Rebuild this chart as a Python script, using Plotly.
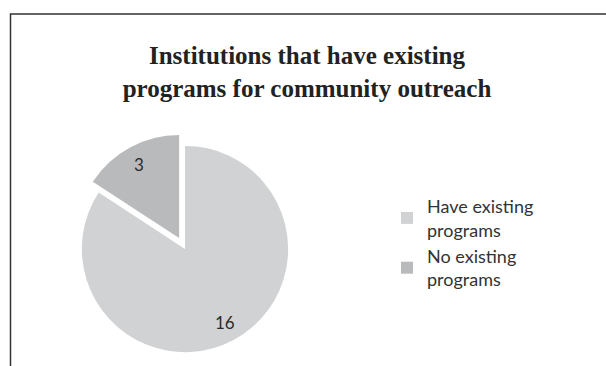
import math
import plotly.graph_objects as go

# Survey counts
categories = ["Have existing<br>programs", "No existing<br>programs"]
counts = [16, 3]
slice_colors = ["#d1d2d4", "#b9babc"]
pull_out = [0, 0.12]

W, H = 606, 366

# Pie placement in pixels (domain box)
dom_x = (69.5, 300.5)
dom_y = (1.5, 232.5)  # measured from the bottom
max_pull = max(pull_out)

fig = go.Figure(
    go.Pie(
        labels=categories,
        values=counts,
        sort=False,
        direction="clockwise",
        rotation=0,
        pull=pull_out,
        marker=dict(colors=slice_colors, line=dict(width=0)),
        textinfo="none",
        domain=dict(x=[dom_x[0] / W, dom_x[1] / W], y=[dom_y[0] / H, dom_y[1] / H]),
        hoverinfo="label+value",
    )
)

# Value labels placed along each slice's mid-angle
cx = (dom_x[0] + dom_x[1]) / 2
cy = (dom_y[0] + dom_y[1]) / 2
radius = (dom_x[1] - dom_x[0]) / 2 / (1 + max_pull)
total = sum(counts)
annotations = []
start = 0.0
for value, pull in zip(counts, pull_out):
    frac = value / total
    mid = (start + frac / 2) * 2 * math.pi  # clockwise from 12 o'clock
    start += frac
    dist = (pull + 0.81) * radius
    px = cx + dist * math.sin(mid)
    py = cy + dist * math.cos(mid)
    annotations.append(
        dict(
            x=px / W,
            y=py / H,
            xref="paper",
            yref="paper",
            text=str(value),
            showarrow=False,
            xanchor="center",
            yanchor="middle",
            font=dict(family="Lato", size=17, color="#2b2b2b"),
        )
    )

fig.update_layout(
    width=W,
    height=H,
    margin=dict(l=0, r=0, t=0, b=0),
    paper_bgcolor="white",
    plot_bgcolor="white",
    title=dict(
        text="<b>Institutions that have existing<br>programs for community outreach</b>",
        x=307 / W,
        xanchor="center",
        y=1 - 64 / H,
        yanchor="middle",
        font=dict(family="Liberation Serif", size=25, color="#222222"),
    ),
    legend=dict(
        x=387 / W,
        y=1 - 188 / H,
        xanchor="left",
        yanchor="top",
        font=dict(family="Lato", size=18, color="#333333"),
        itemsizing="constant",
        bgcolor="rgba(0,0,0,0)",
    ),
    annotations=annotations,
    shapes=[
        dict(
            type="rect",
            xref="paper",
            yref="paper",
            x0=10.5 / W,
            x1=1.05,
            y0=-0.05,
            y1=1 - 14 / H,
            line=dict(color="#333333", width=1.5),
        )
    ],
)

fig.write_html("out.html")
